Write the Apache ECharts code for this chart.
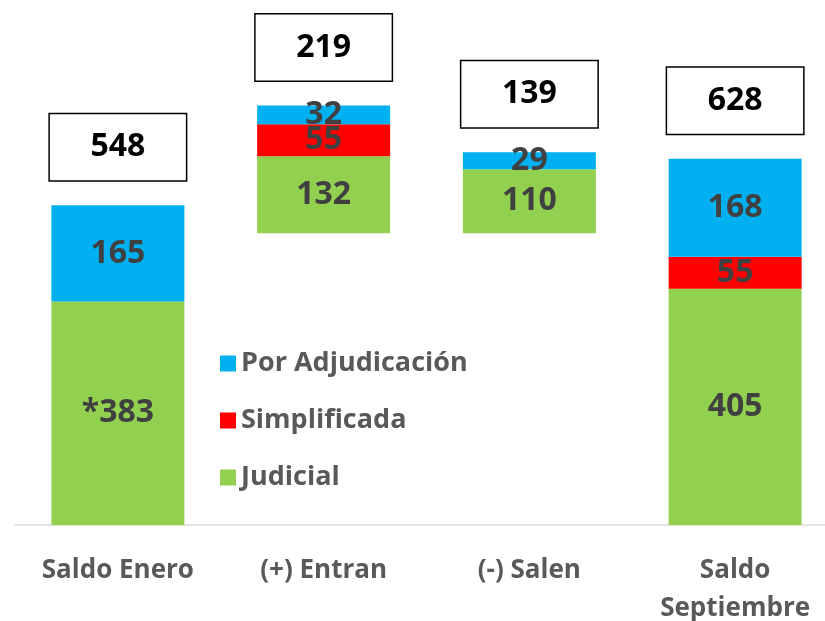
<!DOCTYPE html>
<html>
<head>
<meta charset="utf-8">
<script src="https://cdn.jsdelivr.net/npm/echarts@6/dist/echarts.min.js"></script>
<style>html,body{margin:0;padding:0;background:#fff}#c{width:825px;height:621px}</style>
</head>
<body>
<div id="c"></div>
<script>
var categories = ['Saldo Enero', '(+) Entran', '(-) Salen', 'Saldo\nSeptiembre'];
var baseValues = [0, 500, 500, 0];
var judicial = [383, 132, 110, 405];
var simplificada = [0, 55, 0, 55];
var adjudicacion = [165, 32, 29, 168];
var totals = [548, 219, 139, 628];
var judicialLabels = ['*383', '132', '110', '405'];

var FONT = '"Open Sans", sans-serif';
var chart = echarts.init(document.getElementById('c'));

function inLabel(fmt) {
  return {
    show: true, position: 'inside', color: '#404040', fontSize: 32, fontWeight: 'bold',
    fontFamily: FONT, formatter: fmt
  };
}

var option = {
  animation: false,
  backgroundColor: '#fff',
  grid: { left: 15, width: 823, top: 0, bottom: 96, containLabel: false, outerBoundsMode: 'none' },
  legend: {
    orient: 'vertical', left: 215, top: 345, itemGap: 30, itemWidth: 16, itemHeight: 16,
    data: ['Por Adjudicación', 'Simplificada', 'Judicial'],
    textStyle: { color: '#595959', fontSize: 27, fontWeight: 'bold', fontFamily: FONT },
    icon: 'rect'
  },
  xAxis: {
    type: 'category', data: categories,
    axisLine: { lineStyle: { color: '#d9d9d9', width: 1.5 } },
    axisTick: { show: false },
    axisLabel: { color: '#595959', fontSize: 26, fontWeight: 'bold', fontFamily: FONT, margin: 27, lineHeight: 38, interval: 0 }
  },
  yAxis: { type: 'value', min: 0, max: 900, show: false, splitLine: { show: false } },
  series: [
    { name: 'base', type: 'bar', stack: 'w', data: baseValues, barWidth: 133,
      itemStyle: { color: 'transparent' }, silent: true },
    { name: 'Judicial', type: 'bar', stack: 'w', data: judicial, barWidth: 133,
      itemStyle: { color: '#92D050' },
      label: inLabel(function (p) { return judicialLabels[p.dataIndex]; }) },
    { name: 'Simplificada', type: 'bar', stack: 'w', data: simplificada, barWidth: 133,
      itemStyle: { color: '#FF0000' },
      label: inLabel(function (p) { return p.value ? String(p.value) : ''; }) },
    { name: 'Por Adjudicación', type: 'bar', stack: 'w', data: adjudicacion, barWidth: 133,
      itemStyle: { color: '#00B0F0' },
      label: inLabel(function (p) { return p.value ? String(p.value) : ''; }) },
    { name: 'total', type: 'bar', stack: 'w', data: [0, 0, 0, 0], barWidth: 133,
      itemStyle: { color: 'transparent' },
      label: {
        show: true, position: 'top', distance: 25,
        formatter: function (p) { return String(totals[p.dataIndex]); },
        color: '#000', fontSize: 32, fontWeight: 'bold', fontFamily: FONT,
        backgroundColor: '#fff', borderColor: '#000', borderWidth: 1.5,
        width: 136, height: 66, lineHeight: 66, align: 'center', padding: 0
      } }
  ]
};
chart.setOption(option);
</script>
</body>
</html>
